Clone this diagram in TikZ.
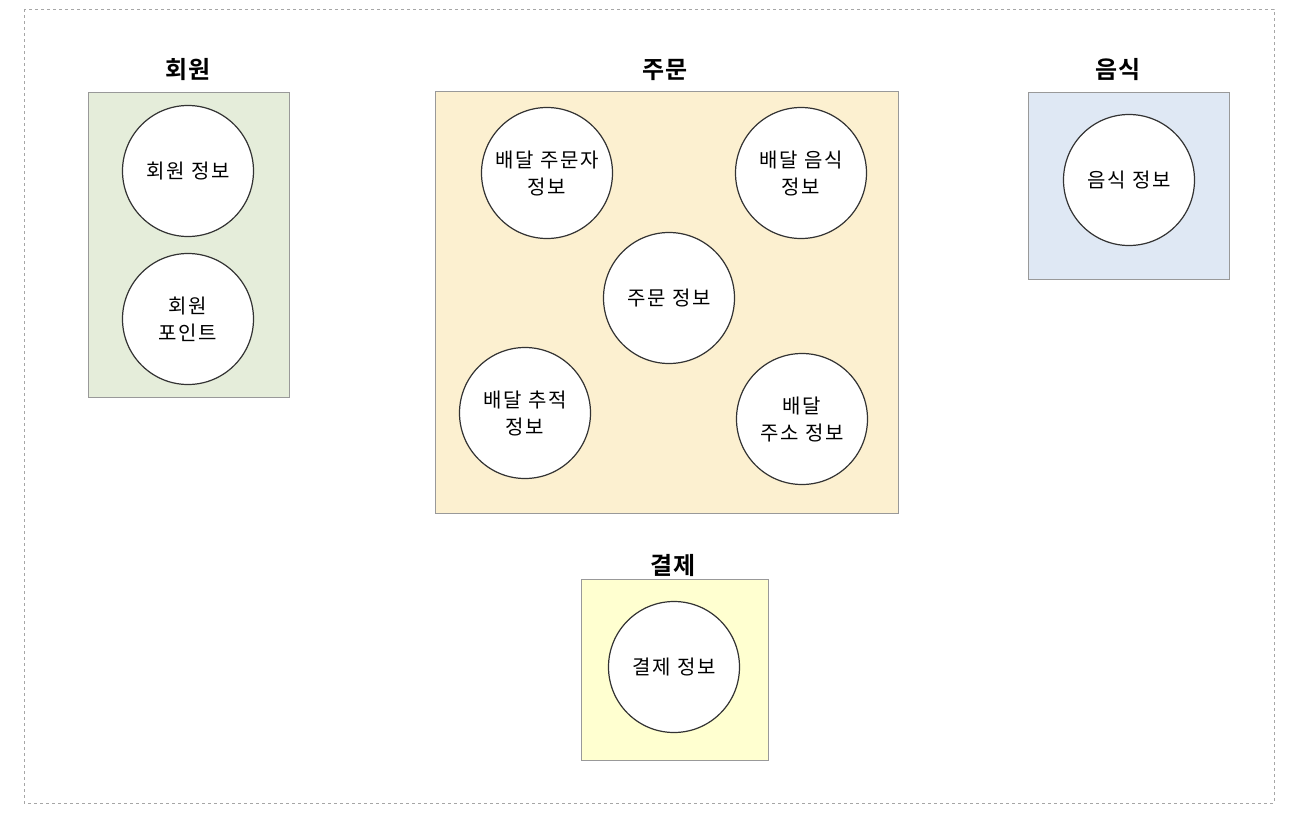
\documentclass[tikz,border=0pt]{standalone}
\usepackage{fontspec}
\setmainfont{Noto Sans CJK KR}
\newfontfamily\entfont[LetterSpace=8]{Noto Sans CJK KR}
\newfontfamily\titlefont[LetterSpace=4]{Noto Sans CJK KR Bold}
\definecolor{gfill}{HTML}{E5EDDA}
\definecolor{ofill}{HTML}{FCF0D0}
\definecolor{bfill}{HTML}{DFE8F4}
\definecolor{yfill}{HTML}{FFFFD0}
\definecolor{boxline}{HTML}{999999}
\definecolor{circline}{HTML}{333333}
\begin{document}
\begin{tikzpicture}[x=1pt,y=-1pt,
  group/.style={draw=boxline, line width=1pt},
  ent/.style={circle, draw=circline, fill=white, line width=1.2pt, minimum size=131pt, inner sep=0pt, align=center, font=\entfont\fontsize{20}{27}\selectfont},
  title/.style={font=\titlefont\fontsize{24}{28}\selectfont}]
\useasboundingbox (0,0) rectangle (1312,828);
\draw[gray!70, dashed, line width=0.8pt] (24,9) rectangle (1274,803);
% groups
\draw[group, fill=gfill] (88,92) rectangle (289,397);
\draw[group, fill=ofill] (435,91) rectangle (898,513);
\draw[group, fill=bfill] (1028,92) rectangle (1229,279);
\draw[group, fill=yfill] (581,579) rectangle (768,760);
% titles
\node[title] (t1) at (188,70) {회원};
\node[title] (t2) at (665,70) {주문};
\node[title] (t3) at (1118,70) {음식};
\node[title] (t4) at (673,565) {결제};
% entities
\node[ent] (m1) at (188,171) {회원 정보};
\node[ent] (m2) at (188,319) {회원\\포인트};
\node[ent] (o1) at (547,173) {배달 주문자\\정보};
\node[ent] (o2) at (801,173) {배달 음식\\정보};
\node[ent] (o3) at (669,298) {주문 정보};
\node[ent] (o4) at (525,413) {배달 추적\\정보};
\node[ent] (o5) at (802,419) {배달\\주소 정보};
\node[ent] (f1) at (1129,180) {음식 정보};
\node[ent] (p1) at (674,667) {결제 정보};
\end{tikzpicture}
\end{document}
